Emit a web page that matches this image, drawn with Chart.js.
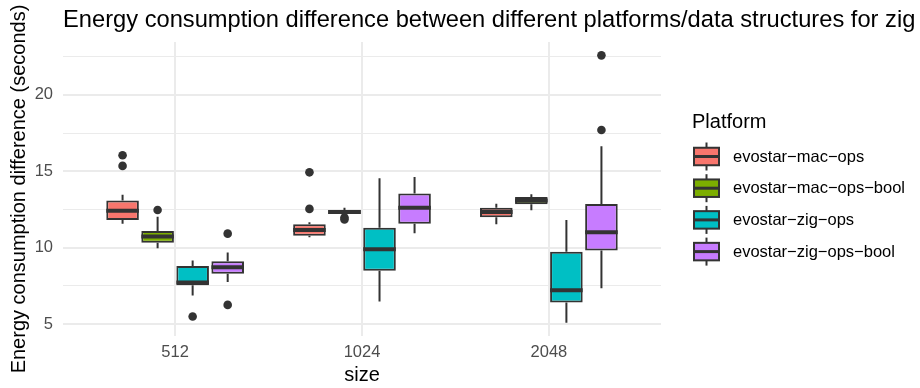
<!DOCTYPE html>
<html>
<head>
<meta charset="utf-8">
<title>Energy consumption difference</title>
<script src="https://cdn.jsdelivr.net/npm/chart.js@4.4.1/dist/chart.umd.min.js"></script>
<style>
  html, body { margin: 0; padding: 0; background: #ffffff; }
  #wrap { width: 920px; height: 388px; }
</style>
</head>
<body>
<div id="wrap"><canvas id="chart" width="920" height="388"></canvas></div>
<script>
// ---- data -------------------------------------------------------------
const sizeLabels = ['512', '1024', '2048'];
const platforms = [
  'evostar−mac−ops',
  'evostar−mac−ops−bool',
  'evostar−zig−ops',
  'evostar−zig−ops−bool'
];
// box statistics: one row per platform, one column per size
const whiskerLow = [
  [11.56, 10.69, 11.54],
  [9.97, 12.17, 12.45],
  [6.87, 6.48, 5.10],
  [7.75, 10.95, 7.35]
];
const q1 = [
  [11.82, 10.79, 11.99],
  [10.33, 12.21, 12.84],
  [7.55, 8.50, 6.41],
  [8.29, 11.56, 9.81]
];
const median = [
  [12.41, 11.16, 12.34],
  [10.73, 12.34, 13.08],
  [7.72, 9.90, 7.22],
  [8.73, 12.62, 11.01]
];
const q3 = [
  [13.08, 11.54, 12.62],
  [11.10, 12.47, 13.32],
  [8.81, 11.31, 9.73],
  [9.12, 13.54, 12.86]
];
const whiskerHigh = [
  [13.47, 11.67, 12.88],
  [12.03, 12.62, 13.50],
  [9.16, 14.54, 11.82],
  [9.68, 14.63, 16.63]
];
const outliers = [
  [[16.05, 15.35], [14.93, 12.54], []],
  [[12.47], [11.98, 11.85], []],
  [[5.50], [], []],
  [[10.92, 6.26], [], [22.58, 17.70]]
];
const yTicks = [5, 7.5, 10, 12.5, 15, 17.5, 20, 22.5];
const xTicks = [0, 1, 2];

// ---- styling ------------------------------------------------------------
const fillColours = ['#F8766D', '#7CAE00', '#00BFC4', '#C77CFF'];
const lineColour = '#333333';
const gridColour = '#EBEBEB';
const fontFamily = "'Liberation Sans', Arial, Helvetica, sans-serif";
const chartTitle = 'Energy consumption difference between different platforms/data structures for zig';
const legendTitle = 'Platform';

// value range with 5% expansion on both sides
const allLow = whiskerLow.flat().concat(outliers.flat(2));
const allHigh = whiskerHigh.flat().concat(outliers.flat(2));
const dataMin = Math.min(...allLow);
const dataMax = Math.max(...allHigh);
const pad = (dataMax - dataMin) * 0.05;

Chart.defaults.font.family = fontFamily;

// whiskers behind the boxes, medians and outlier points on top
const boxPlotParts = {
  id: 'boxPlotParts',
  beforeDatasetsDraw(chart) {
    const { ctx } = chart;
    const y = chart.scales.y;
    ctx.save();
    ctx.strokeStyle = lineColour;
    ctx.lineWidth = 2;
    chart.data.datasets.forEach((ds, p) => {
      chart.getDatasetMeta(p).data.forEach((bar, k) => {
        const { x } = bar.getProps(['x'], true);
        ctx.beginPath();
        ctx.moveTo(x, y.getPixelForValue(q3[p][k]));
        ctx.lineTo(x, y.getPixelForValue(whiskerHigh[p][k]));
        ctx.moveTo(x, y.getPixelForValue(q1[p][k]));
        ctx.lineTo(x, y.getPixelForValue(whiskerLow[p][k]));
        ctx.stroke();
      });
    });
    ctx.restore();
  },
  afterDatasetsDraw(chart) {
    const { ctx } = chart;
    const y = chart.scales.y;
    ctx.save();
    chart.data.datasets.forEach((ds, p) => {
      chart.getDatasetMeta(p).data.forEach((bar, k) => {
        const { x, width } = bar.getProps(['x', 'width'], true);
        const my = y.getPixelForValue(median[p][k]);
        ctx.strokeStyle = lineColour;
        ctx.lineWidth = 4;
        ctx.beginPath();
        ctx.moveTo(x - width / 2, my);
        ctx.lineTo(x + width / 2, my);
        ctx.stroke();
        ctx.fillStyle = lineColour;
        outliers[p][k].forEach(v => {
          ctx.beginPath();
          ctx.arc(x, y.getPixelForValue(v), 4.3, 0, Math.PI * 2);
          ctx.fill();
        });
      });
    });
    ctx.restore();
  }
};

// plot title aligned with the panel, and the boxplot key on the right
const titleAndKey = {
  id: 'titleAndKey',
  afterDraw(chart) {
    const { ctx, chartArea } = chart;
    ctx.save();
    ctx.fillStyle = '#000000';
    ctx.textBaseline = 'alphabetic';
    ctx.textAlign = 'left';
    ctx.font = `23.7px ${fontFamily}`;
    ctx.fillText(chartTitle, chartArea.left, 26.7);

    const cy = (chartArea.top + chartArea.bottom) / 2;
    const kx = chartArea.right + 33;
    ctx.font = `20px ${fontFamily}`;
    ctx.fillText(legendTitle, kx - 2, cy - 61);

    const keyW = 25, boxH = 17.5, whisk = 14;
    ctx.font = `16.5px ${fontFamily}`;
    ctx.textBaseline = 'middle';
    platforms.forEach((name, p) => {
      const ey = cy - 32.5 + p * 31.7;
      const cx = kx + keyW / 2;
      ctx.strokeStyle = lineColour;
      ctx.lineWidth = 2;
      ctx.beginPath();
      ctx.moveTo(cx, ey - whisk);
      ctx.lineTo(cx, ey + whisk);
      ctx.stroke();
      ctx.fillStyle = fillColours[p];
      ctx.fillRect(kx, ey - boxH / 2, keyW, boxH);
      ctx.strokeRect(kx, ey - boxH / 2, keyW, boxH);
      ctx.lineWidth = 3;
      ctx.beginPath();
      ctx.moveTo(kx, ey);
      ctx.lineTo(kx + keyW, ey);
      ctx.stroke();
      ctx.fillStyle = '#000000';
      ctx.fillText(name, kx + 39, ey + 0.5);
    });
    ctx.restore();
  }
};

const datasets = platforms.map((name, p) => ({
  label: name,
  data: xTicks.map(k => ({ x: k, y: [q1[p][k], q3[p][k]] })),
  backgroundColor: fillColours[p],
  borderColor: lineColour,
  borderWidth: 2,
  borderSkipped: false,
  categoryPercentage: 0.75,
  barPercentage: 0.93
}));

new Chart(document.getElementById('chart'), {
  type: 'bar',
  data: { datasets },
  plugins: [boxPlotParts, titleAndKey],
  options: {
    responsive: false,
    devicePixelRatio: 1,
    animation: false,
    events: [],
    layout: { padding: { left: 0, top: 42, right: 259, bottom: 0 } },
    plugins: {
      legend: { display: false },
      title: { display: false },
      tooltip: { enabled: false }
    },
    scales: {
      x: {
        type: 'linear',
        min: -0.6,
        max: 2.6,
        offset: false,
        afterBuildTicks(axis) { axis.ticks = xTicks.map(v => ({ value: v })); },
        afterFit(axis) { axis.height = 52; },
        grid: { color: gridColour, lineWidth: 2, drawTicks: false, offset: false },
        border: { display: false },
        ticks: {
          callback: v => sizeLabels[v],
          color: '#4D4D4D',
          font: { size: 16.5 },
          padding: 7,
          maxRotation: 0
        },
        title: {
          display: true,
          text: 'size',
          color: '#000000',
          font: { size: 20 },
          padding: { top: 0, bottom: 1 }
        }
      },
      y: {
        type: 'linear',
        min: dataMin - pad,
        max: dataMax + pad,
        afterBuildTicks(axis) { axis.ticks = yTicks.map(v => ({ value: v })); },
        afterFit(axis) { axis.width = 63; },
        grid: {
          color: gridColour,
          lineWidth: c => (c.tick && c.tick.value % 5 === 0 ? 2 : 1),
          drawTicks: false
        },
        border: { display: false },
        ticks: {
          callback: v => (v % 5 === 0 ? String(v) : ''),
          color: '#4D4D4D',
          font: { size: 16.5 },
          padding: 10
        },
        title: {
          display: true,
          text: 'Energy consumption difference (seconds)',
          color: '#000000',
          font: { size: 20 },
          padding: { top: 7, bottom: 0 }
        }
      }
    }
  }
});
</script>
</body>
</html>
